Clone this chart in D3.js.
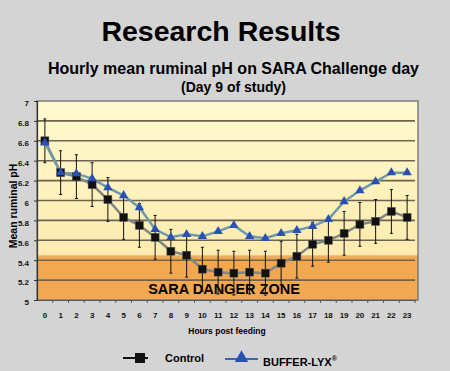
<!DOCTYPE html>
<html>
    <head>
        <title>Research Results</title>
        <script src="https://d3js.org/d3.v7.min.js"></script>
        <style>
            body { margin: 0; background-color: #D4D4D4; }
            svg { display: block; font-family: 'Liberation Sans', Arial, sans-serif; }
        </style>
    </head>
    <body>
        <script>
            const hours = d3.range(0, 24)
            const control = [6.60, 6.28, 6.24, 6.16, 6.01, 5.83, 5.75, 5.63, 5.49, 5.45, 5.31, 5.28,
                             5.27, 5.28, 5.27, 5.37, 5.44, 5.56, 5.60, 5.67, 5.76, 5.79, 5.89, 5.83]
            const controlErr = [0.22, 0.22, 0.22, 0.22, 0.22, 0.22, 0.22, 0.22, 0.22, 0.22, 0.22, 0.22,
                                0.22, 0.22, 0.22, 0.22, 0.22, 0.22, 0.22, 0.22, 0.22, 0.22, 0.22, 0.22]
            const buffer = [6.58, 6.28, 6.27, 6.22, 6.13, 6.05, 5.93, 5.71, 5.63, 5.66, 5.64, 5.69,
                            5.75, 5.64, 5.62, 5.67, 5.70, 5.74, 5.81, 5.99, 6.10, 6.19, 6.28, 6.28]
            const yTicks = [5, 5.2, 5.4, 5.6, 5.8, 6, 6.2, 6.4, 6.6, 6.8, 7]
            const dangerTop = 5.45

            const svg = d3.select('body').append('svg')
            svg.attr('width', 450)
            svg.attr('height', 371)

            const plot = { left: 37, right: 415, top: 101, bottom: 300, edge: 418 }

            const x = d3.scaleBand().domain(hours).range([plot.left, plot.right])
            const y = d3.scaleLinear().domain([5, 7]).range([plot.bottom, plot.top])
            const cx = h => x(h) + x.bandwidth() / 2

            // titles
            svg.append('text')
                .attr('x', 221).attr('y', 41)
                .attr('text-anchor', 'middle')
                .attr('font-size', 28.5).attr('font-weight', 'bold')
                .text('Research Results')
            svg.append('text')
                .attr('x', 233.5).attr('y', 74)
                .attr('text-anchor', 'middle')
                .attr('font-size', 16).attr('font-weight', 'bold')
                .text('Hourly mean ruminal pH on SARA Challenge day')
            svg.append('text')
                .attr('x', 233.5).attr('y', 92)
                .attr('text-anchor', 'middle')
                .attr('font-size', 14).attr('font-weight', 'bold')
                .text('(Day 9 of study)')

            const defs = svg.append('defs')
            const grad = defs.append('linearGradient')
                .attr('id', 'yel').attr('x1', 0).attr('y1', 0).attr('x2', 0).attr('y2', 1)
            grad.append('stop').attr('offset', '0%').attr('stop-color', '#FFFACF')
            grad.append('stop').attr('offset', '100%').attr('stop-color', '#FDEBAE')

            // plot background
            svg.append('rect')
                .attr('x', plot.left).attr('y', plot.top)
                .attr('width', plot.edge - plot.left).attr('height', y(dangerTop) - plot.top)
                .attr('fill', 'url(#yel)')
            svg.append('rect')
                .attr('x', plot.left).attr('y', y(dangerTop))
                .attr('width', plot.edge - plot.left).attr('height', plot.bottom - y(dangerTop))
                .attr('fill', '#F1A850')
            svg.append('line')
                .attr('x1', plot.left).attr('x2', plot.edge)
                .attr('y1', y(dangerTop) + 0.5).attr('y2', y(dangerTop) + 0.5)
                .attr('stroke', '#F7C47C').attr('stroke-width', 1)
            svg.append('rect')
                .attr('x', plot.left).attr('y', plot.top)
                .attr('width', plot.edge - plot.left).attr('height', plot.bottom - plot.top)
                .attr('fill', 'none')
                .attr('stroke', '#7D7D7D').attr('stroke-width', 1.5)

            // gridlines
            svg.append('g').selectAll('line')
                .data(yTicks.slice(1, -1)).enter()
                .append('line')
                    .attr('x1', plot.left).attr('x2', plot.right)
                    .attr('y1', d => y(d)).attr('y2', d => y(d))
                    .attr('stroke', '#6E6450').attr('stroke-width', 1.6)

            svg.append('text')
                .attr('x', 224).attr('y', 294)
                .attr('text-anchor', 'middle')
                .attr('font-size', 14.5).attr('font-weight', 'bold')
                .text('SARA DANGER ZONE')

            // axes
            const yAxis = svg.append('g')
                .attr('transform', `translate(${plot.left},0)`)
                .call(d3.axisLeft(y).tickValues(yTicks).tickSize(3).tickPadding(5)
                    .tickFormat(d3.format('')))
            yAxis.select('.domain').attr('stroke', '#333').attr('stroke-width', 1.2)
            yAxis.selectAll('.tick line').attr('stroke', '#333')
            yAxis.selectAll('text')
                .attr('font-size', 8).attr('font-weight', 'bold')
                .attr('dy', '0.6em').attr('fill', '#111')

            const xAxis = svg.append('g')
                .attr('transform', `translate(0,${plot.bottom})`)
                .call(d3.axisBottom(x).tickSize(0).tickPadding(12))
            xAxis.select('.domain').attr('stroke', '#555').attr('stroke-width', 1.2)
            xAxis.selectAll('text')
                .attr('font-size', 8).attr('font-weight', 'bold').attr('fill', '#111')
            svg.append('g').selectAll('line')
                .data(hours).enter()
                .append('line')
                    .attr('x1', d => x(d) + x.bandwidth()).attr('x2', d => x(d) + x.bandwidth())
                    .attr('y1', plot.bottom).attr('y2', plot.bottom + 3)
                    .attr('stroke', '#555')

            svg.append('text')
                .attr('x', 227).attr('y', 334)
                .attr('text-anchor', 'middle')
                .attr('font-size', 8.5).attr('font-weight', 'bold')
                .text('Hours post feeding')
            svg.append('text')
                .attr('transform', 'translate(17,206) rotate(-90)')
                .attr('text-anchor', 'middle')
                .attr('font-size', 10.5).attr('font-weight', 'bold')
                .text('Mean ruminal pH')

            // error bars (control)
            const eb = svg.append('g').attr('stroke', '#111').attr('stroke-width', 1)
            hours.forEach((h, i) => {
                const y1 = y(control[i] + controlErr[i]), y2 = y(control[i] - controlErr[i])
                eb.append('line').attr('x1', cx(h)).attr('x2', cx(h)).attr('y1', y1).attr('y2', y2)
                eb.append('line').attr('x1', cx(h) - 1.5).attr('x2', cx(h) + 1.5).attr('y1', y1).attr('y2', y1)
                eb.append('line').attr('x1', cx(h) - 1.5).attr('x2', cx(h) + 1.5).attr('y1', y2).attr('y2', y2)
            })

            const line = d3.line().x((d, i) => cx(hours[i])).y(d => y(d))

            svg.append('path')
                .datum(control)
                .attr('d', line)
                .attr('fill', 'none').attr('stroke', '#7E8686').attr('stroke-width', 2.5)
            svg.append('path')
                .datum(buffer)
                .attr('d', line)
                .attr('fill', 'none').attr('stroke', '#6F9BA9').attr('stroke-width', 2.5)

            svg.append('g').selectAll('rect')
                .data(control).enter()
                .append('rect')
                    .attr('x', (d, i) => cx(hours[i]) - 4)
                    .attr('y', d => y(d) - 4)
                    .attr('width', 8).attr('height', 8)
                    .attr('fill', '#111').attr('stroke', '#555').attr('stroke-width', 0.5)

            const tri = d3.symbol().type(d3.symbolTriangle).size(38)
            svg.append('g').selectAll('path')
                .data(buffer).enter()
                .append('path')
                    .attr('d', tri)
                    .attr('transform', (d, i) => `translate(${cx(hours[i])},${y(d)})`)
                    .attr('fill', '#2A4FB5')

            // legend
            const lg = svg.append('g')
            lg.append('line').attr('x1', 123).attr('x2', 148).attr('y1', 358).attr('y2', 358)
                .attr('stroke', '#111').attr('stroke-width', 2)
            lg.append('rect').attr('x', 135).attr('y', 353).attr('width', 10).attr('height', 10)
                .attr('fill', '#111')
            lg.append('text').attr('x', 165).attr('y', 362)
                .attr('font-size', 11).attr('font-weight', 'bold')
                .text('Control')
            lg.append('line').attr('x1', 225).attr('x2', 258).attr('y1', 359).attr('y2', 359)
                .attr('stroke', '#3C62B8').attr('stroke-width', 2)
            lg.append('path').attr('d', d3.symbol().type(d3.symbolTriangle).size(80))
                .attr('transform', 'translate(241.5,358)')
                .attr('fill', '#2A4FB5')
            const bt = lg.append('text').attr('x', 263).attr('y', 366)
                .attr('font-size', 11).attr('font-weight', 'bold')
            bt.append('tspan').text('BUFFER-LYX')
            bt.append('tspan').attr('font-size', 7).attr('dy', -5).text('®')

        </script>
    </body>
</html>
